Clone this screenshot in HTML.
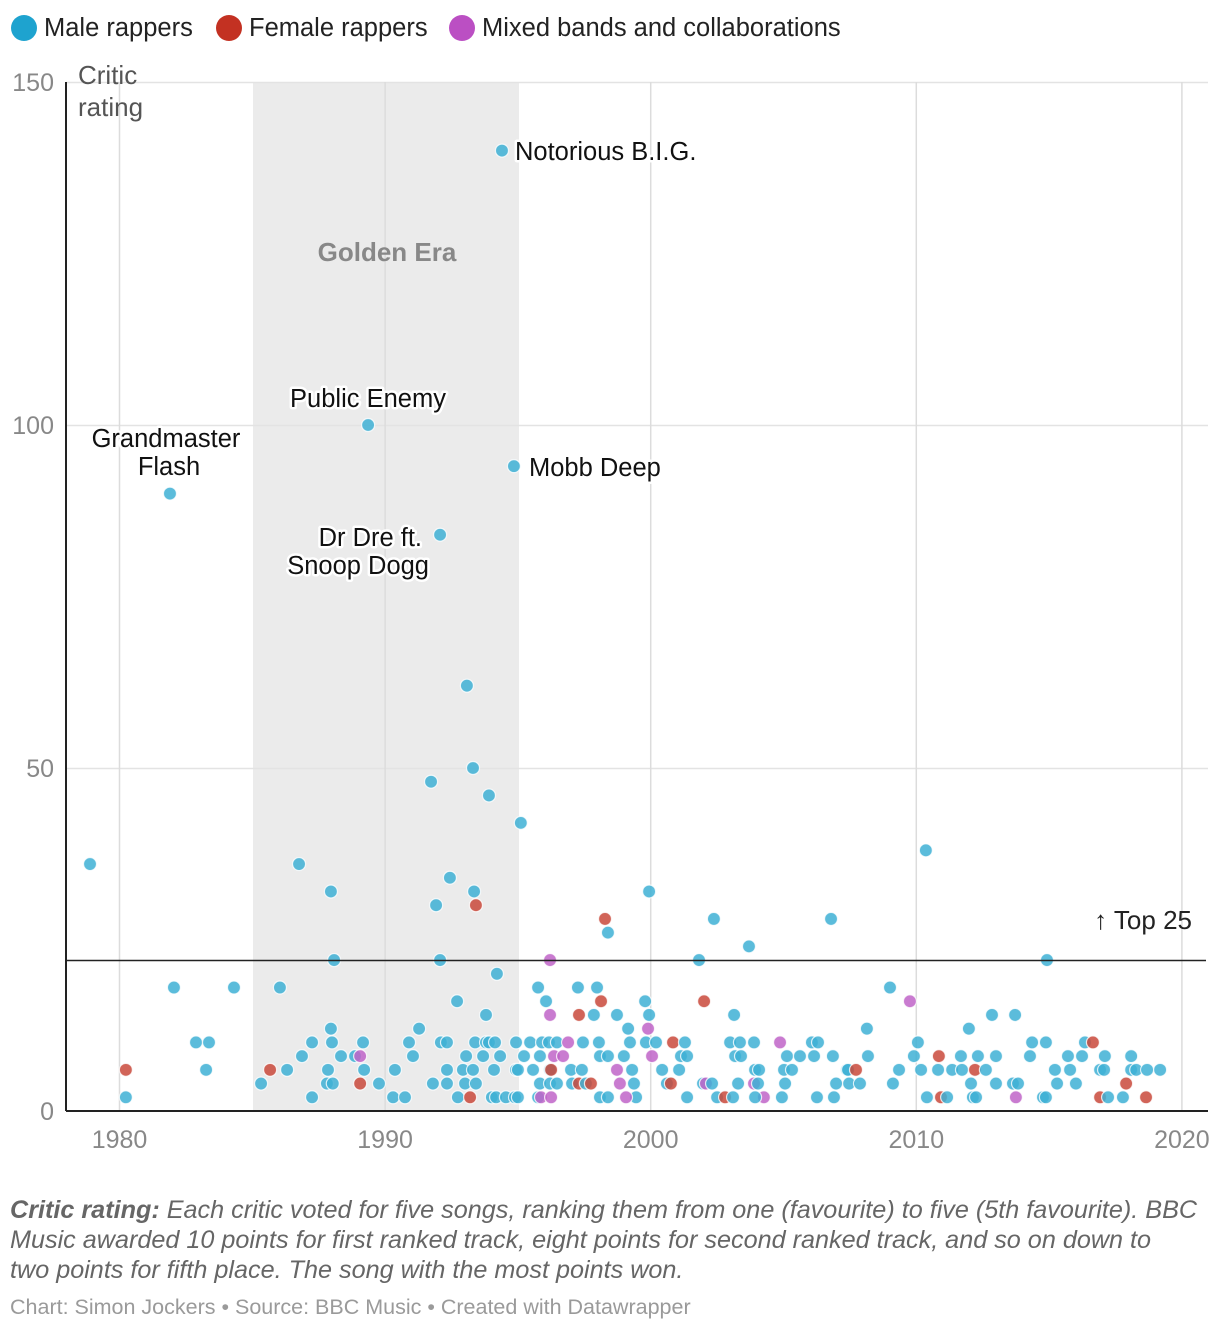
<!DOCTYPE html>
<html><head><meta charset="utf-8"><style>
body{margin:0;background:#fff;width:1220px;height:1330px;overflow:hidden;font-family:"Liberation Sans",sans-serif}
svg text{font-family:"Liberation Sans",sans-serif}
.halo{paint-order:stroke;stroke:#fff;stroke-width:5px;stroke-linejoin:round}
</style></head><body>
<svg id="chart" width="1220" height="1330" viewBox="0 0 1220 1330" xmlns="http://www.w3.org/2000/svg">
<g>
<circle cx="24" cy="28" r="13" fill="#1ea3cf"/>
<text x="44" y="36" font-size="25.5" fill="#222">Male rappers</text>
<circle cx="229" cy="28" r="13" fill="#c33122"/>
<text x="249" y="36" font-size="25.5" fill="#222">Female rappers</text>
<circle cx="462" cy="28" r="13" fill="#bb4fc3"/>
<text x="482" y="36" font-size="25.5" fill="#222">Mixed bands and collaborations</text>
</g>
<rect x="253" y="82" width="266" height="1029" fill="#ebebeb"/>
<g id="grid"></g>
<text x="387" y="261" font-size="26" font-weight="bold" fill="#888" text-anchor="middle">Golden Era</text>
<g id="dots"></g>
<line x1="66" y1="960.5" x2="1206" y2="960.5" stroke="#222" stroke-width="1.5"/>
<text x="1192" y="929" font-size="26" fill="#222" text-anchor="end">↑ Top 25</text>
<text font-size="26" fill="#555"><tspan x="78" y="84">Critic</tspan><tspan x="78" y="116">rating</tspan></text>
<g font-size="25.5" fill="#111">
<text class="halo" x="515" y="160">Notorious B.I.G.</text>
<text class="halo" x="368" y="407" text-anchor="middle">Public Enemy</text>
<text class="halo" text-anchor="middle"><tspan x="166" y="447">Grandmaster</tspan><tspan x="169" y="475">Flash</tspan></text>
<text class="halo" x="529" y="476">Mobb Deep</text>
<text class="halo" text-anchor="end"><tspan x="422" y="546">Dr Dre ft.</tspan><tspan x="429" y="574">Snoop Dogg</tspan></text>
</g>
<line x1="66" y1="82" x2="66" y2="1111" stroke="#222" stroke-width="2"/>
<line x1="66" y1="1111" x2="1208" y2="1111" stroke="#222" stroke-width="2"/>
<text font-size="25.2" fill="#666" font-style="italic">
<tspan x="10" y="1218"><tspan font-weight="bold">Critic rating:</tspan> Each critic voted for five songs, ranking them from one (favourite) to five (5th favourite). BBC</tspan>
<tspan x="10" y="1248">Music awarded 10 points for first ranked track, eight points for second ranked track, and so on down to</tspan>
<tspan x="10" y="1278">two points for fifth place. The song with the most points won.</tspan></text>
<text x="10" y="1314" font-size="21.5" fill="#9a9a9a">Chart: Simon Jockers • Source: BBC Music • Created with Datawrapper</text>
</svg>
<script>
const xTicks=[1980,1990,2000,2010,2020];
const yTicks=[0,50,100,150];
const years=[1978.89,1981.90,1980.24,1980.24,1982.05,1982.88,1983.37,1983.26,1984.31,1985.33,1985.67,1986.04,1986.31,1986.76,1986.87,1987.25,1987.25,1987.85,1987.81,1988.03,1987.96,1988.00,1987.96,1988.08,1988.34,1988.87,1989.06,1989.06,1989.17,1989.21,1989.36,1989.77,1990.30,1990.37,1990.75,1990.90,1991.05,1991.28,1991.73,1991.80,1991.92,1992.07,1992.07,1992.10,1992.33,1992.33,1992.33,1992.44,1992.71,1992.74,1992.93,1993.01,1993.05,1993.08,1993.20,1993.31,1993.35,1993.42,1993.31,1993.39,1993.42,1993.69,1993.80,1993.80,1993.91,1993.91,1994.02,1994.18,1994.10,1994.14,1994.21,1994.33,1994.40,1994.55,1994.85,1994.93,1994.93,1994.89,1995.00,1995.00,1995.11,1995.23,1995.46,1995.57,1995.76,1995.83,1995.83,1995.76,1995.87,1995.91,1996.06,1996.21,1996.21,1996.17,1996.21,1996.21,1996.25,1996.25,1996.36,1996.47,1996.47,1996.70,1996.89,1997.00,1997.04,1997.26,1997.30,1997.30,1997.41,1997.45,1997.56,1997.75,1997.86,1997.98,1998.05,1998.13,1998.09,1998.09,1998.28,1998.39,1998.39,1998.39,1998.73,1998.73,1998.84,1998.99,1999.15,1999.22,1999.30,1999.37,1999.45,1999.07,1999.79,1999.82,1999.90,1999.94,1999.94,2000.05,2000.20,2000.43,2000.61,2000.76,2000.84,2001.07,2001.14,2001.29,2001.37,2001.37,2001.82,2002.01,2001.97,2002.08,2002.31,2002.38,2002.50,2002.80,2002.99,2003.14,2003.18,2003.36,2003.40,2003.29,2003.10,2003.70,2003.89,2003.93,2003.89,2004.08,2004.26,2004.04,2003.93,2004.87,2004.94,2005.02,2005.06,2005.13,2005.32,2005.62,2006.07,2006.15,2006.30,2006.26,2006.79,2006.86,2006.98,2006.90,2007.39,2007.43,2007.47,2007.73,2007.88,2008.14,2008.18,2009.01,2009.12,2009.35,2009.76,2009.91,2010.06,2010.18,2010.36,2010.40,2010.82,2010.85,2010.93,2011.16,2011.35,2011.68,2011.72,2011.98,2012.06,2012.21,2012.13,2012.25,2012.32,2012.62,2012.85,2013.00,2013.00,2013.64,2013.72,2013.75,2013.83,2014.36,2014.28,2014.77,2014.88,2014.92,2014.88,2015.22,2015.30,2015.71,2015.79,2016.01,2016.24,2016.35,2016.65,2016.92,2017.07,2016.92,2017.10,2017.22,2017.78,2017.90,2018.09,2018.09,2018.28,2018.65,2018.69,2019.18];
const ratings=[36,90,6,2,18,10,10,6,18,4,6,18,6,36,8,10,2,6,4,4,12,10,32,22,8,8,8,4,10,6,100,4,2,6,2,10,8,12,48,4,30,22,84,10,10,6,4,34,16,2,6,4,8,62,2,50,32,30,6,10,4,8,14,10,10,46,2,2,6,10,20,8,140,2,94,10,6,2,6,2,42,8,10,6,18,8,4,2,2,10,16,14,22,10,6,4,6,2,8,10,4,8,10,6,4,18,14,4,6,10,4,4,14,18,10,16,8,2,28,26,8,2,14,6,4,8,12,10,6,4,2,2,16,10,12,32,14,8,10,6,4,4,10,6,8,10,8,2,22,16,4,4,4,28,2,2,10,14,8,10,8,4,2,24,10,6,4,6,2,4,2,10,2,6,4,8,6,8,10,8,10,2,28,8,4,2,6,6,4,6,4,12,8,18,4,6,16,8,10,6,38,2,6,8,2,2,6,8,6,12,4,6,2,2,8,6,14,8,4,4,14,2,4,10,8,2,10,22,2,6,4,8,6,4,8,10,10,6,6,2,8,2,2,4,8,6,6,2,6,6];
// song indices by performer group (all others are male rappers)
const femaleIdx=[2,10,27,54,57,96,106,107,111,115,118,141,142,149,155,189,203,204,211,236,239,243,247];
const mixedIdx=[26,88,91,92,97,98,101,102,123,124,131,134,137,151,166,168,171,196,221];
const colors={M:"#3eb0d5",F:"#c9493b",X:"#c064c8"};
const groupOf=i=>femaleIdx.includes(i)?"F":(mixedIdx.includes(i)?"X":"M");
const x=v=>119.5+(v-1980)*26.56;
const y=v=>1111-v*(1029/150);
const NS="http://www.w3.org/2000/svg";
const grid=document.getElementById('grid');
const svg=document.getElementById('chart');
yTicks.forEach(t=>{
 if(t>0){const l=document.createElementNS(NS,'line');
 
 
 l.setAttribute('x1',66);l.setAttribute('x2',1208);l.setAttribute('y1',y(t)+0.5);l.setAttribute('y2',y(t)+0.5);l.setAttribute('stroke','#e3e3e3');l.setAttribute('stroke-width','1.5');grid.appendChild(l);}
 const tx=document.createElementNS(NS,'text');
 
 
 tx.setAttribute('x',54);tx.setAttribute('y',y(t)+9);tx.setAttribute('text-anchor','end');tx.setAttribute('font-size','25');tx.setAttribute('fill','#888');tx.textContent=t;svg.appendChild(tx);
});
xTicks.forEach(t=>{
 const l=document.createElementNS(NS,'line');
 
 
 l.setAttribute('x1',x(t));l.setAttribute('x2',x(t));l.setAttribute('y1',82);l.setAttribute('y2',1111);l.setAttribute('stroke','#dcdcdc');l.setAttribute('stroke-width','1.5');grid.appendChild(l);
 const tx=document.createElementNS(NS,'text');
 
 
 tx.setAttribute('x',x(t));tx.setAttribute('y',1148);tx.setAttribute('text-anchor','middle');tx.setAttribute('font-size','25');tx.setAttribute('fill','#888');tx.textContent=t;svg.appendChild(tx);
});
const dots=document.getElementById('dots');
for(let i=0;i<years.length;i++){
 const c=document.createElementNS(NS,'circle');
 
 
 c.setAttribute('cx',x(years[i]));c.setAttribute('cy',y(ratings[i]));c.setAttribute('r',6.5);
 c.setAttribute('fill',colors[groupOf(i)]);c.setAttribute('fill-opacity','0.85');
 c.setAttribute('stroke','#fff');c.setAttribute('stroke-width','1.2');c.setAttribute('stroke-opacity','0.8');
 dots.appendChild(c);
}
</script>
</body></html>
